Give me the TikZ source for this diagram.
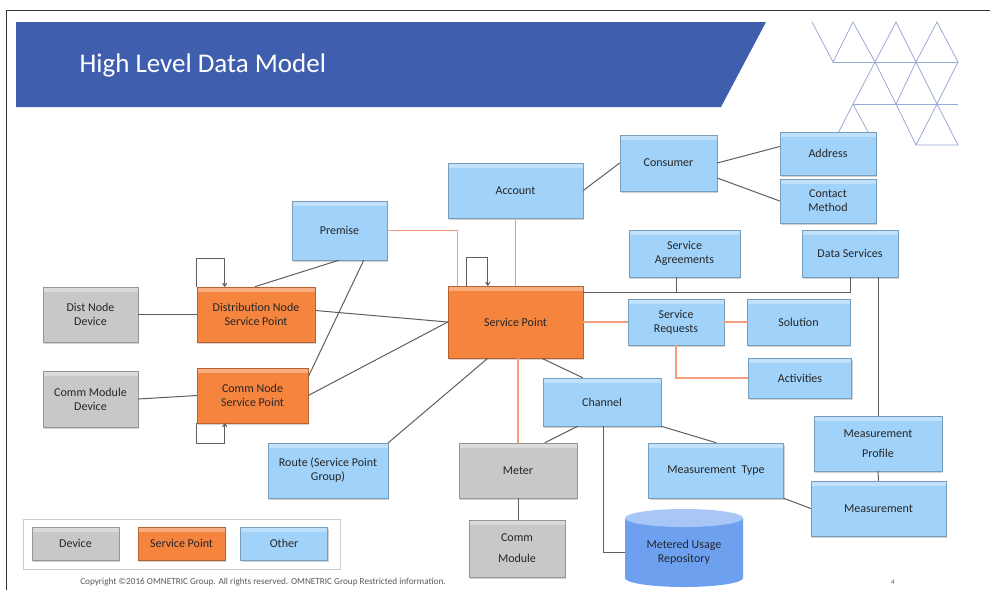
\documentclass[tikz,border=0pt]{standalone}
\usepackage{fontspec}
\setmainfont{Carlito}
\usetikzlibrary{shadows,calc,arrows.meta}
\definecolor{cblue}{HTML}{A0D2FA}
\definecolor{corange}{HTML}{F5843F}
\definecolor{cgray}{HTML}{C8C8C8}
\definecolor{cbanner}{HTML}{3F5EAE}
\definecolor{ctri}{HTML}{9AAAD8}
\definecolor{cline}{HTML}{5E5E5E}
\definecolor{corline}{HTML}{F49C7C}
\definecolor{ctext}{HTML}{262626}
\definecolor{ccylbody}{HTML}{6DA1EF}
\definecolor{ccyltop}{HTML}{A9C7F6}
\tikzset{
  box/.style={draw=#1!75!black, line width=0.5pt, fill=#1, inner sep=2pt, align=center,
    font=\fontsize{12}{14}\selectfont, text=ctext,
    drop shadow={shadow xshift=1.2pt, shadow yshift=-1.8pt, opacity=0.35},
    path picture={\fill[top color=white!35!#1, bottom color=#1] (path picture bounding box.north west) rectangle ([yshift=-4pt]path picture bounding box.north east);}},
  bluebox/.style={box=cblue},
  orbox/.style={box=corange},
  grbox/.style={box=cgray},
  sz/.style 2 args={minimum width=#1pt, minimum height=#2pt},
  conn/.style={draw=cline, line width=1pt},
  oconn/.style={draw=corline, line width=1.1pt},
  loopar/.style={conn, -{To[length=4pt,width=5pt]}},
  tri/.style={draw=ctri, line width=0.8pt},
}
\begin{document}
\begin{tikzpicture}[x=1pt,y=-1pt]
\useasboundingbox (0,0) rectangle (990,590);
% frame
\draw[black!80, line width=1pt] (6,590) -- (6,10) -- (990,10);
% banner
\fill[cbanner] (16,22) -- (766,22) -- (721,107) -- (16,107) -- cycle;
\node[anchor=base west, text=white, font=\fontsize{27}{30}\selectfont] (title) at (76,72) {High Level Data Model};
% triangles
\draw[tri] (812,22)--(833,62)--(853,22)--(875,62)--(896,22)--(916,62)--(937,22)--(958,62);
\draw[tri] (833,62)--(958,62);
\draw[tri] (875,62)--(853,104)--(832,145);
\draw[tri] (853,104)--(875,145);
\draw[tri] (875,62)--(896,104)--(916,62)--(937,104)--(958,62);
\draw[tri] (853,104)--(958,104);
\draw[tri] (896,104)--(916,145)--(937,104)--(958,145)--(916,145);
% cylinder
\fill[ccylbody] (625,518) -- (625,578) arc[start angle=180, end angle=0, x radius=59, y radius=9] -- (743,518) -- cycle;
\fill[ccyltop] (684,518) ellipse[x radius=59, y radius=9];
\node[inner sep=0, sz={118}{60}, align=center, font=\fontsize{12}{14}\selectfont, text=ctext] (repo) at (684,552) {Metered Usage\\Repository};
% nodes
\node[bluebox, sz={135}{55}] (account) at (515.5,190.5) {Account};
\node[bluebox, sz={97}{56}] (consumer) at (668.5,163) {Consumer};
\node[bluebox, sz={96}{43}] (address) at (828,153.5) {Address};
\node[bluebox, sz={96}{44}] (contact) at (828,201) {Contact\\Method};
\node[bluebox, sz={111}{47}] (agree) at (684.5,253.5) {Service\\Agreements};
\node[bluebox, sz={96}{47}] (datasvc) at (850,253.5) {Data Services};
\node[orbox, sz={135}{72}] (sp) at (515.5,322) {Service Point};
\node[bluebox, sz={96}{46}] (requests) at (676,322) {Service\\Requests};
\node[bluebox, sz={103}{46}] (solution) at (798.5,322) {Solution};
\node[bluebox, sz={103}{40}] (activities) at (800,378) {Activities};
\node[bluebox, sz={118}{48}] (channel) at (602,402) {Channel};
\node[bluebox, sz={95}{59}] (premise) at (339.5,230.5) {Premise};
\node[grbox, sz={95}{55}] (distdev) at (90.5,314.5) {Dist Node\\Device};
\node[orbox, sz={118}{55}] (distsp) at (256,314.5) {Distribution Node\\Service Point};
\node[grbox, sz={95}{56}] (commdev) at (90.5,399) {Comm Module\\Device};
\node[orbox, sz={111}{55}] (commsp) at (252.5,395.5) {Comm Node\\Service Point};
\node[bluebox, sz={120}{55}] (route) at (328,470.5) {Route (Service Point\\Group)};
\node[grbox, sz={118}{55}] (meter) at (518,470.5) {Meter};
\node[grbox, sz={96}{57}] (commmod) at (517,548.5) {Comm\\[7pt]Module};
\node[bluebox, sz={135}{55}] (mtype) at (716,470.5) {Measurement\ \ Type};
\node[bluebox, sz={128}{55}] (mprofile) at (878,443.5) {Measurement\\[6pt]Profile};
\node[bluebox, sz={135}{55}] (measurement) at (878.5,508.5) {Measurement};
% connectors
\draw[conn] (account.east) -- (consumer.west);
\draw[conn] (consumer.east) -- ($(address.west)+(0,-7)$);
\draw[conn] ($(consumer.east)+(0,15)$) -- (contact.west);
\draw[oconn] (account.south) -- (sp.north);
\draw[oconn] (premise.east) -| ($(sp.north west)+(10,0)$);
\draw[loopar] ($(sp.north west)+(19,0)$) -- ++(0,-28) -| ($(sp.north west)+(40,0)$);
\draw[conn] ($(sp.north east)+(0,7)$) -| (datasvc.south);
\draw[conn] (agree.south -| requests.south) -- ++(0,16);
\draw[conn] (mprofile.north) -- (mprofile.north |- datasvc.south);
\draw[oconn] (sp.east) -- (requests.west);
\draw[oconn] (requests.east) -- (solution.west);
\draw[oconn] (requests.south) |- (activities.west);
\draw[conn] ($(sp.south west)+(94,0)$) -- ($(channel.north west)+(40,0)$);
\draw[oconn] (sp.south -| meter.north) -- (meter.north);
\draw[conn] (route.north east) -- ($(sp.south west)+(40,0)$);
\draw[conn] ($(channel.south west)+(35,0)$) -- ($(meter.north west)+(86,0)$);
\draw[conn] ($(channel.south west)+(61,0)$) |- (repo.west);
\draw[conn] (channel.south east) -- ($(mtype.north west)+(68,0)$);
\draw[conn] (mtype.south east) -- (measurement.west);
\draw[conn] (mprofile.south) -- (measurement.north);
\draw[conn] (meter.south) -- (meter.south |- commmod.north);
\draw[conn] (distdev.east) -- (distdev.east -| distsp.west);
\draw[conn] (commdev.east) -- (commsp.west);
\draw[conn] ($(premise.south west)+(47,0)$) -- ($(distsp.north west)+(58,0)$);
\draw[conn] ($(premise.south west)+(72,0)$) -- ($(commsp.north east)+(0,9)$);
\draw[conn] ($(distsp.east)+(0,-4)$) -- (sp.west);
\draw[conn] (commsp.east) -- (sp.west);
\draw[loopar] (distsp.north west) -- ++(0,-28) -| ($(distsp.north west)+(28,0)$);
\draw[loopar] (commsp.south west) -- ++(0,20) -| ($(commsp.south west)+(28,0)$);
% legend
\node[draw=black!20, line width=0.6pt, fill=white, sz={317}{50}, inner sep=0] (legend) at (181.5,544) {};
\node[grbox, sz={87}{33}] (legdev) at (75.5,543.5) {Device};
\node[orbox, sz={87}{33}] (legsp) at (181.5,543.5) {Service Point};
\node[bluebox, sz={87}{33}] (legother) at (284,543.5) {Other};
% footer
\node[font=\fontsize{9.2}{11}\selectfont, text=black!65] (copy) at (263,582) {Copyright ©2016 OMNETRIC Group. All rights reserved. OMNETRIC Group Restricted information.};
\node[font=\fontsize{7}{8}\selectfont, text=black!65] (pagenum) at (893,582) {4};
\end{tikzpicture}
\end{document}
